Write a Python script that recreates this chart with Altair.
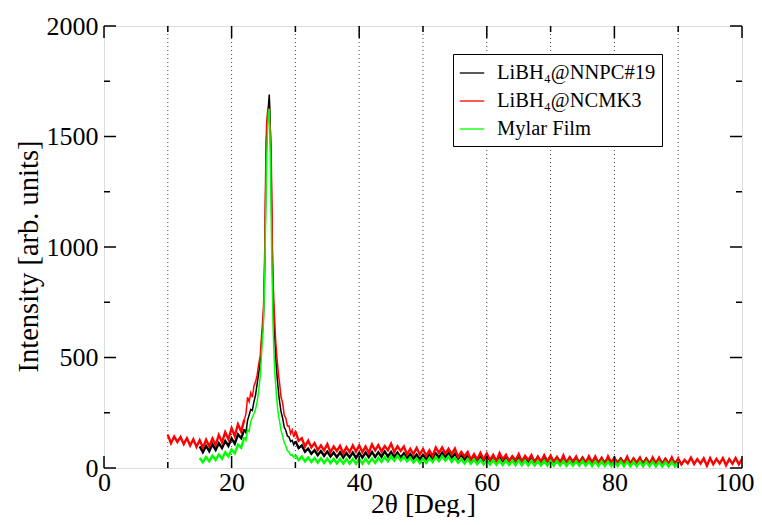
import altair as alt
import pandas as pd

# ---------------- data ----------------
NAMES = ["LiBH\u2084@NNPC#19", "LiBH\u2084@NCMK3", "Mylar Film"]
COLORS = ["#000000", "#ff0000", "#00ff00"]

# each series: segments (start angle, step, intensities)
red_left = [150, 112, 142, 118, 140, 108, 135, 102, 130, 96, 126, 92, 128, 98,
            134, 104, 150, 116, 162, 130, 180, 145, 198, 165]
red_shoulder = [220, 245, 320, 300, 340, 320, 370, 390, 420, 470]
red_peak = [510, 560, 600, 640, 680, 730, 850, 1000, 1260, 1480, 1560, 1600, 1630,
            1615, 1590, 1560, 1520, 1450, 1220, 1000, 860, 770, 700, 640, 580, 540,
            500, 470, 440, 410]
red_tail = [390, 320, 295, 240, 225, 190, 190, 155, 172, 140]
red_right = [166, 123, 135, 97, 124, 93, 113, 81, 102, 80, 108, 71, 97, 77, 100, 66,
             94, 72, 102, 74, 102, 72, 97, 69, 107, 80, 103, 75, 99, 80, 110, 73, 98,
             77, 97, 61, 87, 63, 91, 61, 86, 56, 80, 54, 93, 68, 93, 65, 87, 63, 88, 49,
             73, 52, 72, 36, 63, 39, 68, 39, 66, 36, 59, 31, 67, 39, 60, 31, 53, 34, 63,
             28, 55, 36, 58, 23, 51, 28, 58, 29, 56, 26, 49, 21, 57, 21, 49, 29, 52, 18,
             46, 23, 53, 25, 52, 21, 45, 17, 53, 25, 47, 18, 40, 21, 51, 16, 43, 24, 47,
             13, 41, 18, 48, 20, 47, 15, 40, 18, 48, 13, 43, 16, 37, 21, 47, 18, 40, 20,
             44, 10, 45, 17, 41, 20, 45, 12, 40, 19, 45, 17, 40]

black_left = [98, 72, 100, 76, 107, 82, 112, 90, 122, 100, 134, 110, 152, 135]
black_shoulder = [175, 160, 215, 240, 265, 260, 300, 330, 380, 430]
black_peak = [480, 520, 560, 600, 640, 690, 790, 930, 1150, 1380, 1500, 1560, 1610,
              1650, 1690, 1620, 1480, 1340, 1120, 930, 800, 700, 630, 570, 510, 465,
              425, 390, 360, 330]
black_tail = [305, 255, 225, 185, 170, 145, 140, 120, 125, 105]
black_right = [122, 90, 102, 74, 88, 64, 80, 58, 77, 55, 74, 52, 70, 49, 71, 47, 68,
               48, 70, 46, 69, 47, 70, 49, 72, 50, 71, 51, 75, 52, 73, 50, 70, 48, 66,
               44, 63, 42, 61, 39, 60, 40, 62, 43, 66, 47, 70, 50, 68, 46, 64, 42, 60,
               38, 57, 37, 56, 35, 55, 34, 55, 34, 53, 33, 54, 32, 52, 32, 51, 31, 52,
               31, 50, 30, 51, 29, 49, 29, 50, 28, 50, 28, 48, 27, 48, 26, 47, 26, 46,
               25, 47, 25, 45, 24, 46, 24, 44, 23, 45, 23, 44, 23, 43, 22, 44, 22, 42,
               21, 43, 21, 42, 21, 41, 21, 42, 20, 41, 20, 42, 20, 40]

green_left = [45, 26, 50, 30, 56, 36, 61, 42, 71, 52, 84, 66, 106, 92]
green_shoulder = [140, 125, 175, 165, 210, 230, 245, 265, 300, 350]
green_peak = [420, 470, 520, 570, 610, 660, 760, 880, 1060, 1250, 1400, 1500, 1570,
              1610, 1625, 1520, 1350, 1150, 950, 800, 640, 550, 480, 420, 380, 340,
              305, 275, 250, 230]
green_tail = [215, 170, 145, 115, 100, 78, 72, 58, 60, 48]
green_right = [58, 36, 52, 30, 48, 27, 45, 24, 44, 23, 43, 22, 42, 21, 41, 20, 40, 20,
               41, 19, 40, 20, 42, 21, 43, 23, 46, 27, 49, 30, 53, 33, 56, 34, 52, 30,
               46, 25, 43, 22, 42, 23, 45, 27, 50, 31, 54, 33, 52, 28, 46, 24, 42, 21,
               40, 19, 38, 17, 37, 16, 36, 15, 35, 15, 35, 14, 34, 14, 34, 13, 34, 13,
               33, 12, 33, 12, 32, 12, 32, 11, 32, 11, 31, 11, 31, 10, 31, 10, 30, 10,
               31, 10, 30, 9, 30, 9, 30, 9, 29, 9, 30, 9, 29, 8, 29, 8, 28, 8, 29, 8, 28,
               8, 28, 7, 28, 7, 27, 7, 28, 7, 27]

SERIES = {
    NAMES[0]: [(15.0, 0.5, black_left), (22.0, 0.25, black_shoulder),
               (24.5, 0.1, black_peak), (27.5, 0.25, black_tail),
               (30.0, 0.5, black_right)],
    NAMES[1]: [(10.0, 0.5, red_left), (22.0, 0.25, red_shoulder),
               (24.5, 0.1, red_peak), (27.5, 0.25, red_tail),
               (30.0, 0.5, red_right)],
    NAMES[2]: [(15.0, 0.5, green_left), (22.0, 0.25, green_shoulder),
               (24.5, 0.1, green_peak), (27.5, 0.25, green_tail),
               (30.0, 0.5, green_right)],
}

X_TICKS = [0, 20, 40, 60, 80, 100]
X_MINOR = [10, 30, 50, 70, 90]
X_GRID = [10, 20, 30, 40, 50, 60, 70, 80, 90]
Y_TICKS = [0, 500, 1000, 1500, 2000]
Y_MINOR = [250, 750, 1250, 1750]
PEAK_RANGE = (22.0, 30.0)

rows = []
for name, segs in SERIES.items():
    for start, step, vals in segs:
        for i, v in enumerate(vals):
            rows.append({"x": round(start + i * step, 3), "y": v, "series": name})
df = pd.DataFrame(rows)

W, H = 638, 442
FONT = "Liberation Serif"
MAJ, MIN = 12, 6

xs = alt.Scale(domain=[0, 100], nice=False, zero=False)
ys = alt.Scale(domain=[0, 2000], nice=False, zero=False)
last_x = "datum.value === 100"
x_axis = alt.Axis(values=X_TICKS, format="d", ticks=False, tickSize=0, grid=False,
                  domain=False, labelFlush=False, labelFont=FONT, labelFontSize=26,
                  labelPadding=1, labelColor="black",
                  labelAlign={"condition": {"test": last_x, "value": "right"},
                              "value": "center"},
                  labelOffset={"condition": {"test": last_x, "value": 12},
                               "value": 0},
                  titleFont=FONT, titleFontSize=27.5, titleFontWeight="normal",
                  titleColor="black", titleBaseline="alphabetic", titleY=44)
y_axis = alt.Axis(values=Y_TICKS, format="d", ticks=False, tickSize=0, grid=False,
                  domain=False, labelFlush=False, labelFont=FONT, labelFontSize=26,
                  labelPadding=6, labelColor="black", titleFont=FONT,
                  titleFontSize=28.5, titleFontWeight="normal", titleColor="black",
                  titlePadding=3, titleY=230)
XT = "2\u03b8 [Deg.]"
YT = "Intensity [arb. units]"

def X(field):
    return alt.X(field, type="quantitative", scale=xs, axis=x_axis, title=XT)

def Y(field):
    return alt.Y(field, type="quantitative", scale=ys, axis=y_axis, title=YT)

color = alt.Color(
    "series:N",
    scale=alt.Scale(domain=NAMES, range=COLORS),
    legend=alt.Legend(
        title=None, orient="none", legendX=349, legendY=28, direction="vertical",
        strokeColor="black", fillColor="white", padding=6,
        symbolType="stroke", symbolSize=600, symbolStrokeWidth=1.3,
        labelFont=FONT, labelFontSize=20.5, labelColor="black", rowPadding=4,
        labelOffset=12, labelLimit=300,
    ),
)

grid = alt.Chart(pd.DataFrame({"g": X_GRID})).mark_rule(
    color="#444", strokeWidth=1, strokeDash=[1, 3]
).encode(x=X("g"))

lo, hi = PEAK_RANGE
lines = []
for name in NAMES:
    sub = df[df.series == name]
    left = sub[sub.x <= lo]
    mid = sub[(sub.x >= lo) & (sub.x <= hi)]
    right = sub[sub.x >= hi]
    for part, sw in ((left, 2.4), (right, 2.4), (mid, 1.5)):
        lines.append(
            alt.Chart(part).mark_line(strokeWidth=sw, clip=True)
            .encode(x=X("x"), y=Y("y"), color=color)
        )

ymaj = pd.DataFrame({"v": Y_TICKS})
ymin = pd.DataFrame({"v": Y_MINOR})
xmaj = pd.DataFrame({"v": X_TICKS})
xmin = pd.DataFrame({"v": X_MINOR})
tk = dict(color="black", strokeWidth=1.5)
ticks = [
    alt.Chart(ymaj).mark_rule(**tk).encode(y=Y("v"), x=alt.value(0), x2=alt.value(MAJ)),
    alt.Chart(ymaj).mark_rule(**tk).encode(y=Y("v"), x=alt.value(W - MAJ), x2=alt.value(W)),
    alt.Chart(ymin).mark_rule(**tk).encode(y=Y("v"), x=alt.value(0), x2=alt.value(MIN)),
    alt.Chart(ymin).mark_rule(**tk).encode(y=Y("v"), x=alt.value(W - MIN), x2=alt.value(W)),
    alt.Chart(xmaj).mark_rule(**tk).encode(x=X("v"), y=alt.value(H), y2=alt.value(H - MAJ)),
    alt.Chart(xmaj).mark_rule(**tk).encode(x=X("v"), y=alt.value(0), y2=alt.value(MAJ)),
    alt.Chart(xmin).mark_rule(**tk).encode(x=X("v"), y=alt.value(H), y2=alt.value(H - MIN)),
    alt.Chart(xmin).mark_rule(**tk).encode(x=X("v"), y=alt.value(0), y2=alt.value(MIN)),
]

chart = (
    alt.layer(grid, *lines, *ticks)
    .properties(
        width=W, height=H,
        autosize=alt.AutoSizeParams(type="none"),
        padding={"left": 96, "top": 18, "right": 12, "bottom": 49},
    )
    .configure_view(stroke="black", strokeWidth=2)
    .configure_axis(labelFont=FONT, titleFont=FONT)
    .configure_legend(strokeWidth=1.5, labelFont=FONT)
    .configure(background="white", font=FONT)
)

chart.save("out.html", embed_options={"renderer": "svg", "actions": False})
